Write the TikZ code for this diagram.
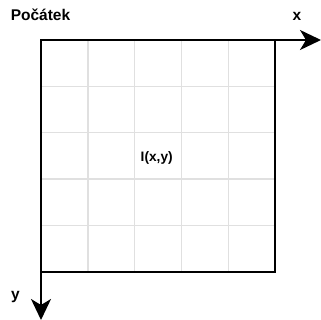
\documentclass[tikz,border=0pt]{standalone}
\usepackage{fontspec}
\setmainfont{Liberation Sans}
\usetikzlibrary{arrows.meta}
\tikzset{
  axis/.style={line width=2pt,-{Stealth[length=21pt,width=20pt,inset=6pt]}},
  gridline/.style={line width=1.4pt,draw=black!12},
  label/.style={font=\fontsize{15.5}{18}\selectfont\bfseries,anchor=base,inner sep=0pt},
}
\begin{document}
\begin{tikzpicture}[x=1pt,y=-1pt]
  \useasboundingbox (0,0) rectangle (321,320);
  % image grid
  \foreach \k in {1,...,4} {
    \draw[gridline] ({41+\k*46.8},40) -- ({41+\k*46.8},272);
    \draw[gridline] (41,{40+\k*46.4}) -- (275,{40+\k*46.4});
  }
  \draw[line width=2pt] (41,40) rectangle (275,272);
  % axes
  \coordinate (origin) at (41,40);
  \coordinate (xend) at (321,40);
  \coordinate (yend) at (41,320);
  \draw[axis] (origin) -- (xend);
  \draw[axis] (origin) -- (yend);
  \node[label] (start) at (40.5,20.7) {Počátek};
  \node[label] (xlab) at (297,20.7) {x};
  \node[label] (ylab) at (15.5,299.5) {y};
  \node[label,font=\fontsize{13.7}{16}\selectfont\bfseries] (pix) at (156.7,161.5) {I(x,y)};
\end{tikzpicture}
\end{document}
